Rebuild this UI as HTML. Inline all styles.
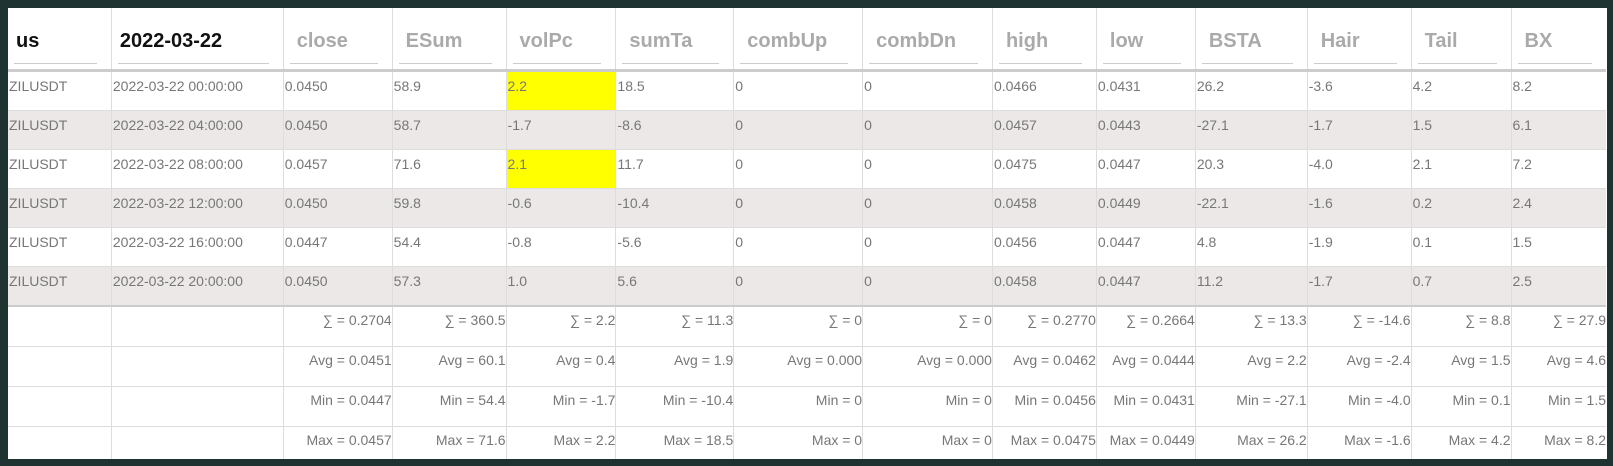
<!DOCTYPE html>
<html><head><meta charset="utf-8"><style>
html,body{margin:0;padding:0;background:#1f3333;width:1613px;height:466px;overflow:hidden}
.wrap{position:absolute;left:8px;top:8px;width:1599px;height:451px;background:#fff;overflow:hidden}
table{border-collapse:collapse;table-layout:fixed;font-family:"Liberation Sans",sans-serif;position:absolute;left:-1px;top:0}
td{border-left:1px solid #ddd;border-bottom:1px solid #ddd;padding:0;height:38px;vertical-align:top;font-size:14px;color:#777;overflow:hidden;white-space:nowrap}
td.d{padding:6px 0 0 1px;height:32px}
tr.h td{height:61px;border-bottom:3px solid #ccc;border-left:1px solid #ddd;position:relative}
.ht{position:absolute;left:13px;top:22px;font-size:20px;font-weight:bold;color:#aaa}
.ht.k{color:#111;left:8px}
.ul{position:absolute;left:6px;right:14px;top:55px;border-top:1px solid #ccc}
tr.g td{background:#ebe8e7}
td.y{background:#ff0}
td.s{text-align:right;padding:5px 0 0 0;height:34px}
</style></head><body><div class="wrap"><table>
<colgroup><col style="width:104px"><col style="width:172px"><col style="width:109px"><col style="width:114px"><col style="width:110px"><col style="width:118px"><col style="width:129px"><col style="width:130px"><col style="width:104px"><col style="width:99px"><col style="width:112px"><col style="width:104px"><col style="width:100px"><col style="width:95px"></colgroup>
<tr class="h"><td><span class="ht k">us</span><div class="ul"></div></td><td><span class="ht k">2022-03-22</span><div class="ul"></div></td><td><span class="ht">close</span><div class="ul"></div></td><td><span class="ht">ESum</span><div class="ul"></div></td><td><span class="ht">volPc</span><div class="ul"></div></td><td><span class="ht">sumTa</span><div class="ul"></div></td><td><span class="ht">combUp</span><div class="ul"></div></td><td><span class="ht">combDn</span><div class="ul"></div></td><td><span class="ht">high</span><div class="ul"></div></td><td><span class="ht">low</span><div class="ul"></div></td><td><span class="ht">BSTA</span><div class="ul"></div></td><td><span class="ht">Hair</span><div class="ul"></div></td><td><span class="ht">Tail</span><div class="ul"></div></td><td><span class="ht">BX</span><div class="ul"></div></td></tr>
<tr><td class="d">ZILUSDT</td><td class="d">2022-03-22 00:00:00</td><td class="d">0.0450</td><td class="d">58.9</td><td class="d y">2.2</td><td class="d">18.5</td><td class="d">0</td><td class="d">0</td><td class="d">0.0466</td><td class="d">0.0431</td><td class="d">26.2</td><td class="d">-3.6</td><td class="d">4.2</td><td class="d">8.2</td></tr>
<tr class="g"><td class="d">ZILUSDT</td><td class="d">2022-03-22 04:00:00</td><td class="d">0.0450</td><td class="d">58.7</td><td class="d">-1.7</td><td class="d">-8.6</td><td class="d">0</td><td class="d">0</td><td class="d">0.0457</td><td class="d">0.0443</td><td class="d">-27.1</td><td class="d">-1.7</td><td class="d">1.5</td><td class="d">6.1</td></tr>
<tr><td class="d">ZILUSDT</td><td class="d">2022-03-22 08:00:00</td><td class="d">0.0457</td><td class="d">71.6</td><td class="d y">2.1</td><td class="d">11.7</td><td class="d">0</td><td class="d">0</td><td class="d">0.0475</td><td class="d">0.0447</td><td class="d">20.3</td><td class="d">-4.0</td><td class="d">2.1</td><td class="d">7.2</td></tr>
<tr class="g"><td class="d">ZILUSDT</td><td class="d">2022-03-22 12:00:00</td><td class="d">0.0450</td><td class="d">59.8</td><td class="d">-0.6</td><td class="d">-10.4</td><td class="d">0</td><td class="d">0</td><td class="d">0.0458</td><td class="d">0.0449</td><td class="d">-22.1</td><td class="d">-1.6</td><td class="d">0.2</td><td class="d">2.4</td></tr>
<tr><td class="d">ZILUSDT</td><td class="d">2022-03-22 16:00:00</td><td class="d">0.0447</td><td class="d">54.4</td><td class="d">-0.8</td><td class="d">-5.6</td><td class="d">0</td><td class="d">0</td><td class="d">0.0456</td><td class="d">0.0447</td><td class="d">4.8</td><td class="d">-1.9</td><td class="d">0.1</td><td class="d">1.5</td></tr>
<tr class="g"><td class="d" style="border-bottom:2px solid #ccc">ZILUSDT</td><td class="d" style="border-bottom:2px solid #ccc">2022-03-22 20:00:00</td><td class="d" style="border-bottom:2px solid #ccc">0.0450</td><td class="d" style="border-bottom:2px solid #ccc">57.3</td><td class="d" style="border-bottom:2px solid #ccc">1.0</td><td class="d" style="border-bottom:2px solid #ccc">5.6</td><td class="d" style="border-bottom:2px solid #ccc">0</td><td class="d" style="border-bottom:2px solid #ccc">0</td><td class="d" style="border-bottom:2px solid #ccc">0.0458</td><td class="d" style="border-bottom:2px solid #ccc">0.0447</td><td class="d" style="border-bottom:2px solid #ccc">11.2</td><td class="d" style="border-bottom:2px solid #ccc">-1.7</td><td class="d" style="border-bottom:2px solid #ccc">0.7</td><td class="d" style="border-bottom:2px solid #ccc">2.5</td></tr>
<tr><td class="s"></td><td class="s"></td><td class="s">∑ = 0.2704</td><td class="s">∑ = 360.5</td><td class="s">∑ = 2.2</td><td class="s">∑ = 11.3</td><td class="s">∑ = 0</td><td class="s">∑ = 0</td><td class="s">∑ = 0.2770</td><td class="s">∑ = 0.2664</td><td class="s">∑ = 13.3</td><td class="s">∑ = -14.6</td><td class="s">∑ = 8.8</td><td class="s">∑ = 27.9</td></tr>
<tr><td class="s"></td><td class="s"></td><td class="s">Avg = 0.0451</td><td class="s">Avg = 60.1</td><td class="s">Avg = 0.4</td><td class="s">Avg = 1.9</td><td class="s">Avg = 0.000</td><td class="s">Avg = 0.000</td><td class="s">Avg = 0.0462</td><td class="s">Avg = 0.0444</td><td class="s">Avg = 2.2</td><td class="s">Avg = -2.4</td><td class="s">Avg = 1.5</td><td class="s">Avg = 4.6</td></tr>
<tr><td class="s"></td><td class="s"></td><td class="s">Min = 0.0447</td><td class="s">Min = 54.4</td><td class="s">Min = -1.7</td><td class="s">Min = -10.4</td><td class="s">Min = 0</td><td class="s">Min = 0</td><td class="s">Min = 0.0456</td><td class="s">Min = 0.0431</td><td class="s">Min = -27.1</td><td class="s">Min = -4.0</td><td class="s">Min = 0.1</td><td class="s">Min = 1.5</td></tr>
<tr><td class="s"></td><td class="s"></td><td class="s">Max = 0.0457</td><td class="s">Max = 71.6</td><td class="s">Max = 2.2</td><td class="s">Max = 18.5</td><td class="s">Max = 0</td><td class="s">Max = 0</td><td class="s">Max = 0.0475</td><td class="s">Max = 0.0449</td><td class="s">Max = 26.2</td><td class="s">Max = -1.6</td><td class="s">Max = 4.2</td><td class="s">Max = 8.2</td></tr>
</table></div></body></html>
